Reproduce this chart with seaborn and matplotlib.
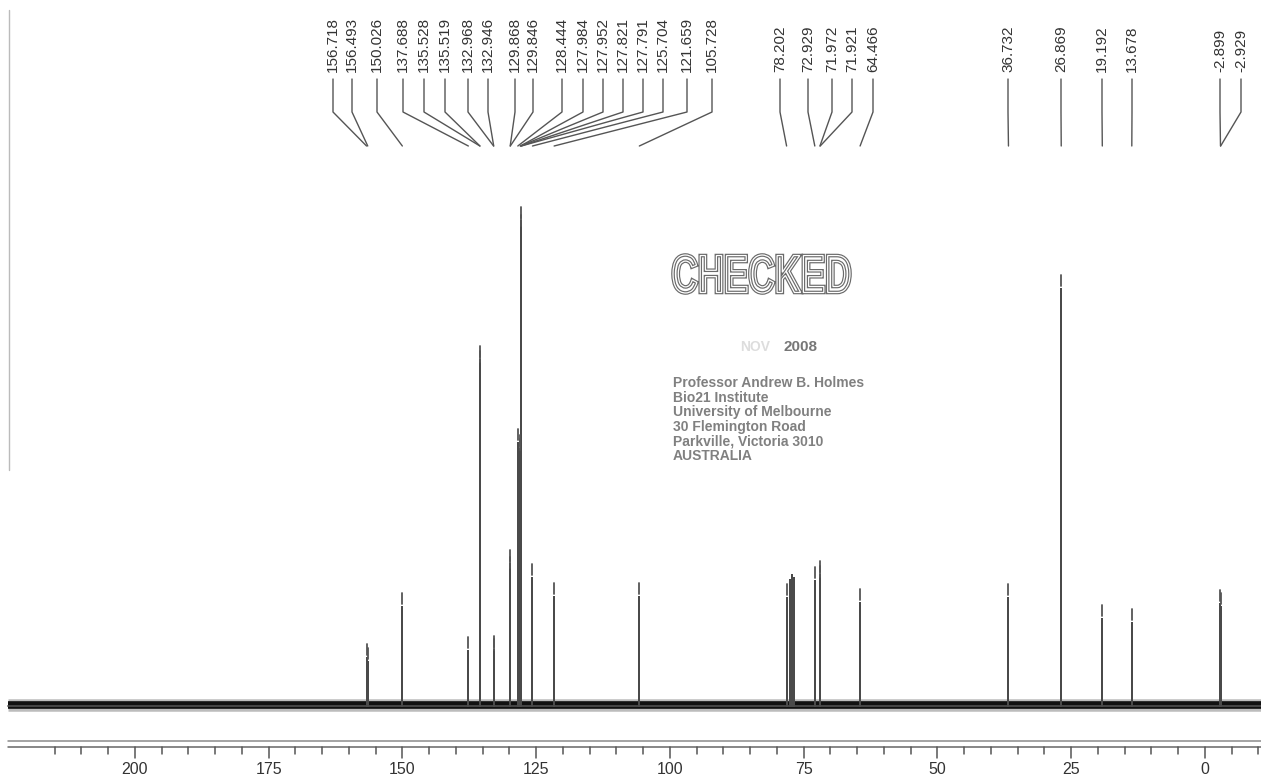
import numpy as np
import pandas as pd
import seaborn as sns
import matplotlib.pyplot as plt
from matplotlib.textpath import TextPath
from matplotlib.patches import PathPatch
from matplotlib.font_manager import FontProperties
from matplotlib.transforms import Affine2D

# =========================
# data
# =========================
peak_ppm = [156.718, 156.493, 150.026, 137.688, 135.528, 135.519, 132.968, 132.946,
            129.868, 129.846, 128.444, 127.984, 127.952, 127.821, 127.791, 125.704,
            121.659, 105.728, 78.202, 72.929, 71.972, 71.921, 64.466, 36.732,
            26.869, 19.192, 13.678, -2.899, -2.929]
peak_height = [48, 44, 99, 55, 346, 341, 56, 53,
               142, 135, 263, 257, 253, 485, 477, 128,
               109, 109, 108, 125, 131, 126, 103, 108,
               417, 87, 83, 102, 99]
# CDCl3 triplet, not peak-picked
solvent_ppm = [77.48, 77.16, 76.84]
solvent_height = [126, 131, 128]

axis_labels = [200, 175, 150, 125, 100, 75, 50, 25, 0]

stamp_title = "CHECKED"
stamp_date = "2008"
stamp_address = ["Professor Andrew B. Holmes", "Bio21 Institute",
                 "University of Melbourne", "30 Flemington Road",
                 "Parkville, Victoria 3010", "AUSTRALIA"]

# =========================
# layout (pixels of the 1261x776 page)
# =========================
W, H = 1261, 776
PPM_LEFT = 225.23     # ppm at left page edge
PX_PER_PPM = 5.35
BASE_Y = 706          # baseline row, from top

def px2ppm(x):
    return PPM_LEFT - x / PX_PER_PPM

def ytop(y):
    return BASE_Y - y

# where the pick labels sit (bruker spreads them out)
label_x_px = [333, 352, 377, 403, 424, 445, 468, 488, 515, 533, 562, 583, 603,
              623, 643, 663, 687, 712,
              780, 808, 832, 852, 873, 1008, 1061, 1102, 1132, 1220, 1241]

sns.set_theme(style="white")
plt.rcParams["font.family"] = ["Liberation Sans", "DejaVu Sans"]

fig = plt.figure(figsize=(W / 100, H / 100), dpi=100)
ax = fig.add_axes([0, 0, 1, 1])
ax.set_xlim(px2ppm(0), px2ppm(W))
ax.set_ylim(ytop(H), ytop(0))
ax.set_axis_off()

# =========================
# stick spectrum
# =========================
sticks = pd.DataFrame({"ppm": peak_ppm + solvent_ppm,
                       "h": peak_height + solvent_height})
sticks = sticks.sort_values("ppm", ascending=False)
rows = [(px2ppm(8), 0.0)]
for p, h in zip(sticks["ppm"], sticks["h"]):
    rows += [(p, 0.0), (p, h), (p, 0.0)]
rows.append((px2ppm(W), 0.0))
trace = pd.DataFrame(rows, columns=["ppm", "intensity"])

# noisy baseline band
ax.plot([px2ppm(8), px2ppm(W)], [1, 1], color="#222222", lw=9, alpha=0.3,
        solid_capstyle="butt")
ax.plot([px2ppm(8), px2ppm(W)], [1, 1], color="#111111", lw=5.5,
        solid_capstyle="butt")
sns.lineplot(data=trace, x="ppm", y="intensity", sort=False, estimator=None,
             color="#4a4a4a", lw=1.3, ax=ax)

# peak-pick marks just above each top
for p, h in zip(peak_ppm, peak_height):
    ax.plot([p, p], [h + 3, h + 14], color="#555555", lw=1.3)

# =========================
# pick labels + leaders
# =========================
for p, lx in zip(peak_ppm, label_x_px):
    xl = px2ppm(lx)
    ax.text(xl, ytop(72), f"{p:.3f}", rotation=90, ha="center", va="bottom",
            fontsize=11, color="#333333")
    ax.plot([xl, xl, p], [ytop(79), ytop(112), ytop(146)],
            color="#555555", lw=1.0)

# =========================
# ppm axis (double rule + ticks)
# =========================
for yy, c in [(741, "#8a8a8a"), (747, "#666666")]:
    ax.plot([px2ppm(8), px2ppm(W)], [ytop(yy), ytop(yy)], color=c, lw=1.1)
for t in range(215, -11, -5):
    y_end = 758 if t % 25 == 0 else 754
    ax.plot([t, t], [ytop(747), ytop(y_end)], color="#555555", lw=1.1)
for t in axis_labels:
    ax.text(t, ytop(774), str(t), ha="center", va="baseline", fontsize=11.5,
            color="#333333")

# faint page edge on the left
ax.plot([px2ppm(9), px2ppm(9)], [ytop(10), ytop(470)], color="#bbbbbb", lw=1.0)

# =========================
# CHECKED stamp
# =========================
fp = FontProperties(family="Liberation Sans", weight="bold")
tp = TextPath((0, 0), stamp_title, size=10, prop=fp)
ext = tp.get_extents()
box_x0, box_x1, box_top, box_bot = 673, 850, 255, 293
tr = (Affine2D().translate(-ext.x0, -ext.y0)
      .scale((box_x1 - box_x0) / ext.width, (box_bot - box_top) / ext.height)
      .translate(box_x0, H - box_bot).scale(1 / 100) + fig.dpi_scale_trans)
fig.add_artist(PathPatch(tp, transform=tr, fc="white", ec="#6a6a6a", lw=2.6))
fig.add_artist(PathPatch(tp, transform=tr, fc="none", ec="white", lw=0.9))

ax.text(px2ppm(740), ytop(347), "NOV", ha="left", va="center", fontsize=10,
        fontweight="bold", color="#dddddd")
ax.text(px2ppm(783), ytop(347), stamp_date, ha="left", va="center", fontsize=11,
        fontweight="bold", color="#777777")
for i, line in enumerate(stamp_address):
    ax.text(px2ppm(673), ytop(383 + i * 14.6), line, ha="left", va="center",
            fontsize=10, fontweight="bold", color="#808080")

fig.savefig("out.png", dpi=100)
